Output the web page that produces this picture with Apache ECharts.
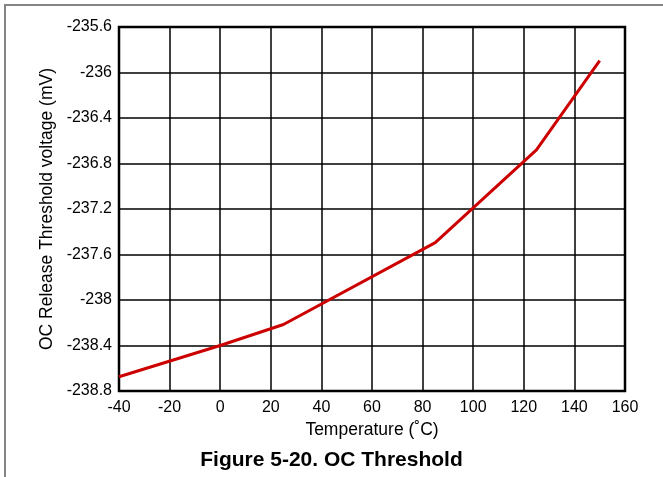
<!DOCTYPE html>
<html>
<head>
<meta charset="utf-8">
<script src="https://cdn.jsdelivr.net/npm/echarts@6/dist/echarts.min.js"></script>
<style>
  html, body { margin: 0; padding: 0; background: #fff; }
  #frame {
    position: absolute; left: 4px; top: 4px; width: 700px; height: 500px;
    border-top: 2px solid #858585; border-left: 2px solid #858585;
  }
  #chart { position: absolute; left: 0; top: 0; width: 663px; height: 477px; }
</style>
</head>
<body>
<div id="frame"></div>
<div id="chart"></div>
<script>
// temperature (°C) and threshold voltage (mV)
const temps = [-40, 0, 25, 85, 125, 150]
const voltage = [-238.675, -238.4, -238.215, -237.495, -236.68, -235.895]

const xMin = -40, xMax = 160, xStep = 20
const yMin = -238.8, yMax = -235.6, yStep = 0.4

const font = "'Liberation Sans', Arial, sans-serif"

let chart = echarts.init(document.getElementById('chart'))
chart.setOption({
  animation: false,
  textStyle: { fontFamily: font },
  title: {
    text: 'Figure 5-20. OC Threshold',
    left: 'center',
    top: 445,
    textStyle: { fontFamily: font, fontSize: 21, fontWeight: 'bold', color: '#000' }
  },
  grid: {
    left: 119, right: 38, top: 27, bottom: 86,
    show: true, borderColor: '#000', borderWidth: 2.5,
    backgroundColor: 'transparent'
  },
  xAxis: {
    type: 'value',
    min: xMin, max: xMax, interval: xStep,
    name: 'Temperature (˚C)',
    nameLocation: 'middle',
    nameGap: 25,
    nameTextStyle: { fontSize: 17.5, color: '#000', fontFamily: font },
    axisLine: { show: false },
    axisTick: { show: false },
    axisLabel: { fontSize: 16, color: '#000', margin: 9, fontFamily: font },
    splitLine: { lineStyle: { color: '#000', width: 1.5 } }
  },
  yAxis: {
    type: 'value',
    min: yMin, max: yMax, interval: yStep,
    name: 'OC Release Threshold voltage (mV)',
    nameLocation: 'middle',
    nameRotate: 90,
    nameGap: 62,
    nameTextStyle: { fontSize: 17.5, color: '#000', fontFamily: font },
    axisLine: { show: false },
    axisTick: { show: false },
    axisLabel: {
      fontSize: 16, color: '#000', margin: 7, fontFamily: font,
      formatter: v => String(+v.toFixed(1))
    },
    splitLine: { lineStyle: { color: '#000', width: 1.5 } }
  },
  series: [{
    type: 'line',
    data: temps.map((t, i) => [t, voltage[i]]),
    showSymbol: false,
    lineStyle: { color: '#cc0000', width: 3 },
    itemStyle: { color: '#cc0000' }
  }]
})
</script>
</body>
</html>
